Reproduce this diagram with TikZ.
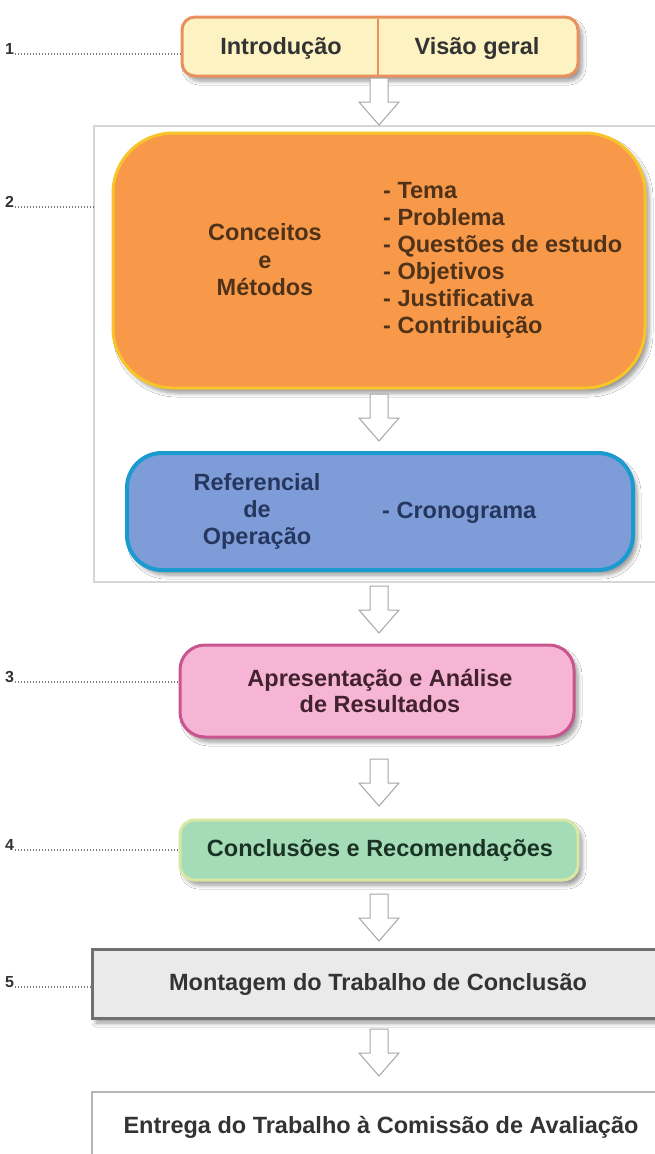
\documentclass[tikz,border=0pt]{standalone}
\usepackage{fontspec}
\setmainfont{Liberation Sans}
\usetikzlibrary{shadows.blur}
\definecolor{yellowfill}{HTML}{FCF2C2}
\definecolor{orangeline}{HTML}{E9915E}
\definecolor{orangefill}{HTML}{F8994A}
\definecolor{orangeborder}{HTML}{F7C52A}
\definecolor{bluefill}{HTML}{7E9DD8}
\definecolor{blueborder}{HTML}{1B9AD0}
\definecolor{pinkfill}{HTML}{F7B5D6}
\definecolor{pinkborder}{HTML}{C9558F}
\definecolor{greenfill}{HTML}{A5DCB8}
\definecolor{greenborder}{HTML}{D6E8A4}
\definecolor{grayfill}{HTML}{EAEAEA}
\definecolor{grayborder}{HTML}{707070}
\definecolor{textdark}{HTML}{333333}
\definecolor{orangetext}{HTML}{4F3218}
\definecolor{bluetext}{HTML}{26375F}
\definecolor{pinktext}{HTML}{42222F}
\definecolor{greentext}{HTML}{1A3324}
\definecolor{framegray}{HTML}{D6D6D6}
\definecolor{arrowgray}{HTML}{A6A6A6}
\definecolor{leader}{HTML}{7A7A7A}
\tikzset{
  txt/.style={font={\fontsize{23.5}{27}\selectfont\bfseries}, inner sep=0pt},
  softshadow/.style={blur shadow={shadow xshift=4pt, shadow yshift=-5pt, shadow blur radius=4pt, shadow blur steps=6, shadow opacity=40}},
  stagebox/.style={draw, line width=3pt, inner sep=0pt, softshadow},
  num/.style={font={\fontsize{16}{16}\selectfont\bfseries}, text=textdark, inner sep=0pt, anchor=base west},
  leaderline/.style={draw=leader, line width=1.3pt, dash pattern=on 1.2pt off 1.8pt},
  framebox/.style={draw=framegray, line width=1.2pt, fill=white, inner sep=0pt},
  pics/blockarrow/.style={code={
    \draw[draw=arrowgray, fill=white, line width=1pt, line join=miter]
      (-9,0) -- (-9,24) -- (-20,24) -- (0,47) -- (20,24) -- (9,24) -- (9,0) -- cycle;}}
}
\begin{document}
\begin{tikzpicture}[x=1pt,y=-1pt]
\clip (0,0) rectangle (655,1154);
\fill[white] (0,0) rectangle (655,1154);

% stage 1
\node[stagebox, draw=orangeline, fill=yellowfill, rounded corners=13pt,
      minimum width=396pt, minimum height=59pt] (intro) at (380,46.5) {};
\draw[orangeline, line width=2pt] (378,18.5) -- (378,74.5);
\node[txt, text=textdark] (introL) at (281,48) {Introdução};
\node[txt, text=textdark] (introR) at (477,48) {Visão geral};

% frame of stage 2
\node[framebox, minimum width=568pt, minimum height=456pt] (frame2) at (378,354) {};

% stage 2a
\node[stagebox, draw=orangeborder, fill=orangefill, rounded corners=60pt,
      minimum width=532pt, minimum height=255pt] (concepts) at (379,260.5) {};
\node[txt, text=orangetext, align=center, font={\fontsize{23.5}{27.5}\selectfont\bfseries}] (conceptsL) at (265,260) {Conceitos\\e\\Métodos};
\node[txt, text=orangetext, align=left, anchor=west] (conceptsR) at (383,260) {- Tema\\- Problema\\- Questões de estudo\\- Objetivos\\- Justificativa\\- Contribuição};

% stage 2b
\node[stagebox, draw=blueborder, fill=bluefill, line width=4pt, rounded corners=35pt,
      minimum width=506pt, minimum height=117pt] (operation) at (380,511.5) {};
\node[txt, text=bluetext, align=center] (operationL) at (257,511) {Referencial\\de\\Operação};
\node[txt, text=bluetext, anchor=west] (operationR) at (382,513) {- Cronograma};

% stage 3
\node[stagebox, draw=pinkborder, fill=pinkfill, rounded corners=25pt,
      minimum width=394pt, minimum height=92pt] (results) at (377,691) {};
\node[txt, text=pinktext, align=center, font={\fontsize{23.5}{26}\selectfont\bfseries}] (resultsT) at (380,691) {Apresentação e Análise\\de Resultados};

% stage 4
\node[stagebox, draw=greenborder, fill=greenfill, rounded corners=15pt,
      minimum width=398pt, minimum height=60pt] (concl) at (379,850) {};
\node[txt, text=greentext] (conclT) at (380,850) {Conclusões e Recomendações};

% stage 5
\node[stagebox, draw=grayborder, fill=grayfill, minimum width=570pt, minimum height=69pt] (assembly) at (377,983.5) {};
\node[txt, text=textdark] (assemblyT) at (378,984) {Montagem do Trabalho de Conclusão};

% delivery
\node[framebox, draw=framegray!85!black, minimum width=572pt, minimum height=80pt] (delivery) at (378,1132) {};
\node[txt, text=textdark] (deliveryT) at (381,1127) {Entrega do Trabalho à Comissão de Avaliação};

% block arrows
\pic at (379,78) {blockarrow};
\pic at (379,394) {blockarrow};
\pic at (379,586) {blockarrow};
\pic at (379,759) {blockarrow};
\pic at (379,894) {blockarrow};
\pic at (379,1029) {blockarrow};

% numbers with leaders
\node[num] (n1) at (5,54) {1};
\draw[leaderline] (n1.base east) ++(1,0) coordinate (l1) -- (l1 -| intro.west);
\node[num] (n2) at (5,207) {2};
\draw[leaderline] (n2.base east) ++(1,0) coordinate (l2) -- (l2 -| frame2.west);
\node[num] (n3) at (5,682) {3};
\draw[leaderline] (n3.base east) ++(1,0) coordinate (l3) -- (l3 -| results.west);
\node[num] (n4) at (5,850) {4};
\draw[leaderline] (n4.base east) ++(1,0) coordinate (l4) -- (l4 -| concl.west);
\node[num] (n5) at (5,987) {5};
\draw[leaderline] (n5.base east) ++(1,0) coordinate (l5) -- (l5 -| assembly.west);
\end{tikzpicture}
\end{document}
